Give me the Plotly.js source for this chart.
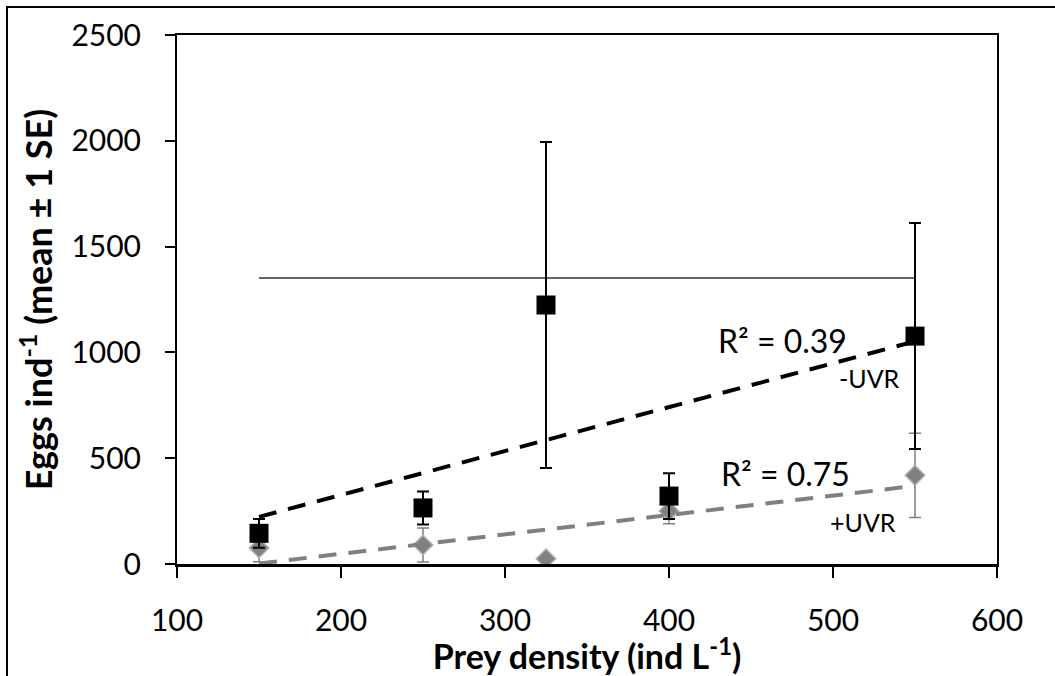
<!DOCTYPE html>
<html>
<head>
<meta charset="utf-8">
<script src="https://cdn.plot.ly/plotly-3.0.1.min.js"></script>
<style>
html,body{margin:0;padding:0;background:#fff;}
#wrap{position:relative;width:1055px;height:676px;overflow:hidden;}
#chart{width:1055px;height:676px;}
#frame{position:absolute;left:6px;top:6px;width:1100px;height:700px;border-left:2px solid #000;border-top:2px solid #000;pointer-events:none;}
</style>
</head>
<body>
<div id="wrap"><div id="chart"></div><div id="frame"></div></div>
<script>
// Prey density categories (ind L-1)
const preyDensity = [150, 250, 325, 400, 550];
// -UVR: eggs per individual, mean and SE
const noUVRMean = [145, 265, 1224, 321, 1077];
const noUVRSE   = [68, 78, 770, 108, 534];
// +UVR: eggs per individual, mean and SE
const uvrMean = [76, 90, 25, 250, 419];
const uvrSE   = [65, 80, 8, 60, 199];
// stray horizontal reference line in the original figure
const refLineX = [150, 550];
const refLineY = [1352, 1352];
// tick values
const xTicks = [100, 200, 300, 400, 500, 600];
const yTicks = [0, 500, 1000, 1500, 2000, 2500];
// annotation texts
const r2NoUVR = "R² = 0.39";
const r2UVR = "R² = 0.75";

function linfit(x, y) {
  const n = x.length;
  const mx = x.reduce((a, b) => a + b, 0) / n;
  const my = y.reduce((a, b) => a + b, 0) / n;
  let sxy = 0, sxx = 0;
  for (let i = 0; i < n; i++) { sxy += (x[i] - mx) * (y[i] - my); sxx += (x[i] - mx) ** 2; }
  const b = sxy / sxx, a = my - b * mx;
  const xs = [Math.min(...x), Math.max(...x)];
  return { x: xs, y: xs.map(v => a + b * v) };
}
const fitNo = linfit(preyDensity, noUVRMean);
const fitUv = linfit(preyDensity, uvrMean);

const traces = [
  { x: refLineX, y: refLineY, mode: 'lines', line: { color: '#333', width: 1.5 }, hoverinfo: 'skip', showlegend: false },
  { x: preyDensity, y: uvrMean, mode: 'markers', name: '+UVR',
    marker: { symbol: 'diamond', size: 15, color: '#808080', line: { color: '#b0b0b0', width: 1.5 } },
    error_y: { type: 'data', array: uvrSE, visible: true, color: '#808080', thickness: 1.5, width: 6 } },
  { x: preyDensity, y: noUVRMean, mode: 'markers', name: '-UVR',
    marker: { symbol: 'square', size: 19, color: '#000', line: { color: '#000', width: 0 } },
    error_y: { type: 'data', array: noUVRSE, visible: true, color: '#000', thickness: 2, width: 6 } },
  { x: fitUv.x, y: fitUv.y, mode: 'lines', line: { color: '#808080', width: 4, dash: '18px,12px' }, showlegend: false },
  { x: fitNo.x, y: fitNo.y, mode: 'lines', line: { color: '#000', width: 4, dash: '18px,12px' }, showlegend: false }
];

const tickFont = { family: 'Lato, sans-serif', size: 30, color: '#000' };
const layout = {
  width: 1055, height: 676,
  margin: { l: 177, r: 58, t: 35, b: 112 },
  paper_bgcolor: '#fff', plot_bgcolor: '#fff',
  showlegend: false,
  xaxis: {
    range: [100, 600], tickvals: xTicks, ticktext: xTicks.map(String),
    showgrid: false, zeroline: false,
    showline: true, linecolor: '#000', linewidth: 2.5, mirror: true,
    ticks: 'outside', ticklen: 11, tickwidth: 2, tickcolor: '#000',
    tickfont: tickFont, ticklabelstandoff: 17,
    title: { text: 'Prey density (ind L<sup>-1</sup>)', font: { family: 'Lato, sans-serif', size: 34, color: '#000', weight: 'bold' }, standoff: 0 }
  },
  yaxis: {
    range: [0, 2500], tickvals: yTicks, ticktext: yTicks.map(String),
    showgrid: false, zeroline: false,
    showline: true, linecolor: '#000', linewidth: 2, mirror: true,
    ticks: 'outside', ticklen: 10, tickwidth: 2, tickcolor: '#000',
    tickfont: tickFont, ticklabelstandoff: 18,
    title: { text: 'Eggs ind<sup>-1</sup> (mean ± 1 SE)', font: { family: 'Lato, sans-serif', size: 36, color: '#000', weight: 'bold' }, standoff: 8 }
  },
  annotations: [
    { x: 469.5, y: 1058, xref: 'x', yref: 'y', text: r2NoUVR, showarrow: false, font: { family: 'Lato, sans-serif', size: 32, color: '#000' } },
    { x: 522, y: 879, xref: 'x', yref: 'y', text: '-UVR', showarrow: false, font: { family: 'Lato, sans-serif', size: 25, color: '#000' } },
    { x: 471, y: 430, xref: 'x', yref: 'y', text: r2UVR, showarrow: false, font: { family: 'Lato, sans-serif', size: 32, color: '#000' } },
    { x: 518, y: 198, xref: 'x', yref: 'y', text: '+UVR', showarrow: false, font: { family: 'Lato, sans-serif', size: 25, color: '#000' } }
  ]
};
Plotly.newPlot('chart', traces, layout, { displayModeBar: false, staticPlot: true });
</script>
</body>
</html>
